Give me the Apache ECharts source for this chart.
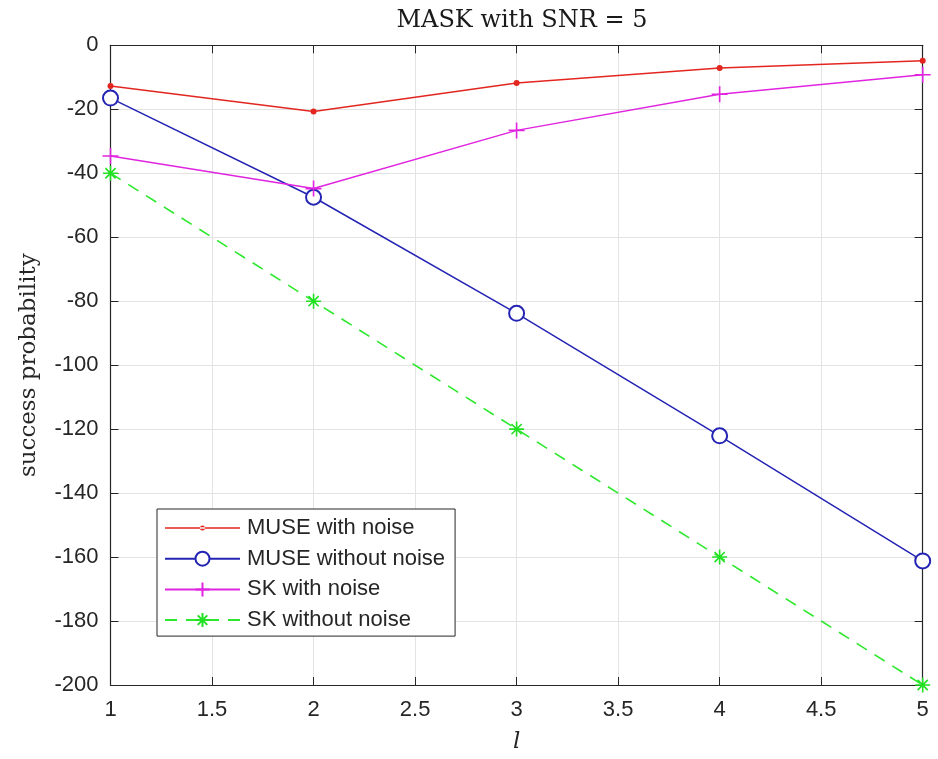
<!DOCTYPE html>
<html>
<head>
<meta charset="utf-8">
<script src="https://cdn.jsdelivr.net/npm/echarts@6/dist/echarts.min.js"></script>
<style>
html,body{margin:0;padding:0;background:#fff;}
#chart{width:938px;height:759px;}
</style>
</head>
<body>
<div id="chart"></div>
<script>
const xValues = [1, 2, 3, 4, 5];
const museWithNoise = [-12.7, -20.7, -11.8, -7.1, -4.8];
const museWithoutNoise = [-16.5, -47.5, -83.8, -122.1, -161.2];
const skWithNoise = [-34.6, -44.8, -26.6, -15.3, -9.2];
const skWithoutNoise = [-40, -80, -120, -160, -200];
const seriesNames = ['MUSE with noise', 'MUSE without noise', 'SK with noise', 'SK without noise'];
const titleText = 'MASK with SNR = 5';
const xName = 'l';
const yName = 'success probability';

function pairs(ys) { return xValues.map((x, i) => [x, ys[i]]); }

const axisColor = '#262626';
const gridColor = '#e3e3e3';
const tickFont = { fontFamily: 'Liberation Sans, Arial, sans-serif', fontSize: 22, color: '#262626' };

const plusPath = 'path://M5,0L5,10M0,5L10,5';
const starPath = 'path://M5,0L5,10M0,5L10,5M1.6,1.6L8.4,8.4M8.4,1.6L1.6,8.4';
// legend icon for the red series: line with a small dot in the middle
const redLegendIcon = 'path://M0,0M75,17.5M0,8L75,8L75,9.5L0,9.5ZM35,8.75A2.5,2.5,0,1,0,40,8.75A2.5,2.5,0,1,0,35,8.75Z';

const chart = echarts.init(document.getElementById('chart'), null, { renderer: 'canvas' });
chart.setOption({
  animation: false,
  backgroundColor: '#ffffff',
  title: {
    text: titleText,
    left: 517,
    textAlign: 'center',
    top: 4,
    textStyle: { fontFamily: 'DejaVu Serif, serif', fontWeight: 'normal', fontSize: 24, color: '#1a1a1a' }
  },
  grid: { left: 110.5, right: 15.3, top: 45.3, bottom: 73, containLabel: false },
  legend: {
    orient: 'vertical',
    left: 157,
    top: 509,
    padding: [8, 10, 5, 7],
    itemWidth: 75,
    itemHeight: 17.5,
    itemGap: 8.7,
    backgroundColor: '#ffffff',
    borderColor: '#262626',
    borderWidth: 1,
    textStyle: { fontFamily: 'Liberation Sans, Arial, sans-serif', fontSize: 22, color: '#262626', padding: [0, 0, 0, 2] },
    data: [
      { name: seriesNames[0], icon: redLegendIcon },
      seriesNames[1], seriesNames[2], seriesNames[3]
    ]
  },
  xAxis: [{
    type: 'value', min: 1, max: 5, interval: 0.5,
    name: xName, nameLocation: 'middle', nameGap: 46,
    nameTextStyle: { fontFamily: 'DejaVu Serif, serif', fontStyle: 'italic', fontSize: 23, color: '#262626' },
    axisLine: { show: true, onZero: false, lineStyle: { color: axisColor, width: 1.2 } },
    axisTick: { show: true, inside: true, length: 8, lineStyle: { color: axisColor } },
    axisLabel: Object.assign({ margin: 14, formatter: v => String(v) }, tickFont),
    splitLine: { show: true, lineStyle: { color: gridColor, width: 1 } }
  }, {
    type: 'value', min: 1, max: 5, interval: 0.5, position: 'top',
    axisLine: { show: true, onZero: false, lineStyle: { color: axisColor, width: 1.2 } },
    axisTick: { show: true, inside: true, length: 8, lineStyle: { color: axisColor } },
    axisLabel: { show: false }, splitLine: { show: false }
  }],
  yAxis: [{
    type: 'value', min: -200, max: 0, interval: 20,
    name: yName, nameLocation: 'middle', nameGap: 70,
    nameTextStyle: { fontFamily: 'DejaVu Serif, serif', fontSize: 23, color: '#262626' },
    axisLine: { show: true, onZero: false, lineStyle: { color: axisColor, width: 1.2 } },
    axisTick: { show: true, inside: true, length: 8, lineStyle: { color: axisColor } },
    axisLabel: Object.assign({ margin: 12 }, tickFont),
    splitLine: { show: true, lineStyle: { color: gridColor, width: 1 } }
  }, {
    type: 'value', min: -200, max: 0, interval: 20, position: 'right',
    axisLine: { show: true, onZero: false, lineStyle: { color: axisColor, width: 1.2 } },
    axisTick: { show: true, inside: true, length: 8, lineStyle: { color: axisColor } },
    axisLabel: { show: false }, splitLine: { show: false }
  }],
  series: [
    {
      name: seriesNames[0], type: 'line', data: pairs(museWithNoise),
      color: '#e3261f',
      lineStyle: { color: '#e3261f', width: 1.5 },
      symbol: 'circle', symbolSize: 6,
      itemStyle: { color: '#e3261f' }
    },
    {
      name: seriesNames[1], type: 'line', data: pairs(museWithoutNoise),
      color: '#2424b4',
      lineStyle: { color: '#2424b4', width: 1.5 },
      symbol: 'emptyCircle', symbolSize: 15,
      itemStyle: { color: '#2424b4', borderColor: '#2424b4', borderWidth: 1.5 }
    },
    {
      name: seriesNames[2], type: 'line', data: pairs(skWithNoise),
      color: '#e024e0',
      lineStyle: { color: '#e024e0', width: 1.5 },
      symbol: plusPath, symbolSize: 16,
      itemStyle: { color: 'rgba(0,0,0,0)', borderColor: '#e024e0', borderWidth: 1.6 }
    },
    {
      name: seriesNames[3], type: 'line', data: pairs(skWithoutNoise),
      color: '#2ee82e',
      lineStyle: { color: '#2ee82e', width: 1.6, type: [12, 9] },
      symbol: starPath, symbolSize: 15,
      itemStyle: { color: 'rgba(0,0,0,0)', borderColor: '#22e022', borderWidth: 1.6 }
    }
  ]
});
</script>
</body>
</html>
